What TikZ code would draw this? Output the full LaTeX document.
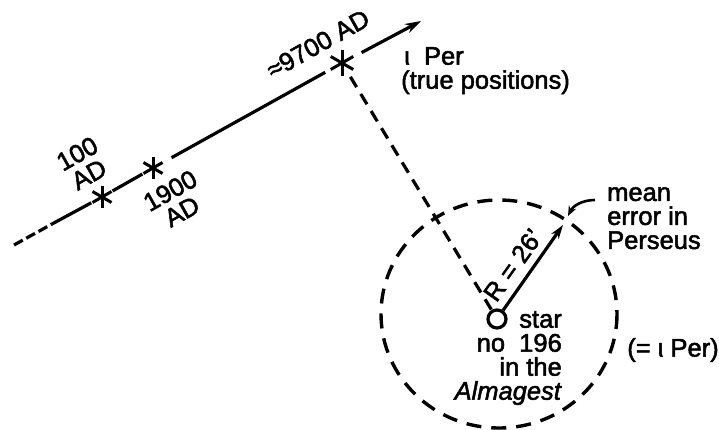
\documentclass[tikz,border=0pt]{standalone}
\usepackage{fontspec}
\setmainfont{Liberation Sans}[FakeBold=2]
\usetikzlibrary{arrows.meta,calc}
\newcommand\drawast[2]{%
  \foreach \a in {90,30,150}{\draw[astline] ($(#1)+(\a:#2)$) -- ($(#1)+(\a+180:#2)$);}}
\begin{document}
\begin{tikzpicture}[x=1pt,y=-1pt,
  lbl/.style={font=\fontsize{25.5}{24}\selectfont, inner sep=0pt},
  mainline/.style={line width=3.2pt},
  astline/.style={line width=3pt},
  dline/.style={line width=3.2pt, dash pattern=on 12pt off 8pt},
  circline/.style={line width=3.4pt, dash pattern=on 15pt off 10pt},
  starpt/.style={circle, inner sep=0pt, minimum size=24pt},
  tipstyle/.style={-{Stealth[length=16pt,width=10pt]}}]
\useasboundingbox (0,0) rectangle (719,430);

% main proper-motion line
\coordinate (lstart) at (14,245);
\coordinate (ldash) at (52,224);
\node[starpt] (s100) at (102,197) {};
\node[starpt] (s1900) at (153,168) {};
\node[starpt] (s9700) at (342,63) {};
\coordinate (tip) at (421,21);

\draw[mainline, dash pattern=on 10pt off 4pt] (lstart) -- (ldash);
\draw[mainline] (ldash) -- (s100);
\draw[mainline] (s100) -- (s1900);
\draw[mainline, shorten <=9pt, shorten >=7pt] (s1900) -- (s9700);
\draw[mainline, tipstyle, shorten <=10pt] (s9700) -- (tip);

\drawast{s100}{11}
\drawast{s1900}{11}
\drawast{s9700}{13}

% star 196
\node[circle, draw, line width=3.2pt, minimum size=18pt, inner sep=0pt] (c196) at (497,319) {};
\draw[dline, shorten <=4pt] (s9700) -- (c196);

% error circle
\coordinate (cc) at (499,314);
\draw[circline] (cc) ellipse [x radius=118, y radius=114];

% radius arrow
\coordinate (rtip) at (563,225);
\draw[mainline, -{Stealth[length=14pt,width=9pt]}] (c196) -- (rtip);

% pointer to circle
\coordinate (mtail) at (595,200);
\coordinate (mtip) at (568,216);
\draw[line width=2.6pt, -{Stealth[length=10pt,width=8pt]}] (mtail) .. controls (582,200) and (573,206) .. (mtip);

% labels
\node[lbl, rotate=29.4] (l9700) at (318,44) {≈9700 AD};
\node[lbl, rotate=29.4, align=center] (l100) at (83,164) {100\\AD};
\node[lbl, rotate=29.4, align=center] (l1900) at (176,201) {1900\\AD};
\node[lbl, anchor=north west, align=left] (lper) at (401,47) {\hspace*{3pt}ι\ \ Per\\(true positions)};
\node[lbl, rotate=54.5] (lR) at (513,265) {R = 26'};
\node[lbl, anchor=north west, align=left] (lmean) at (607,187) {mean\\error in\\Perseus};
\node[lbl, anchor=north east, align=right] (lstar) at (562,311) {star\\no\ \ 196\\in the\\\textit{Almagest}};
\node[lbl] (leq) at (673,350) {(= ι Per)};
\end{tikzpicture}
\end{document}
